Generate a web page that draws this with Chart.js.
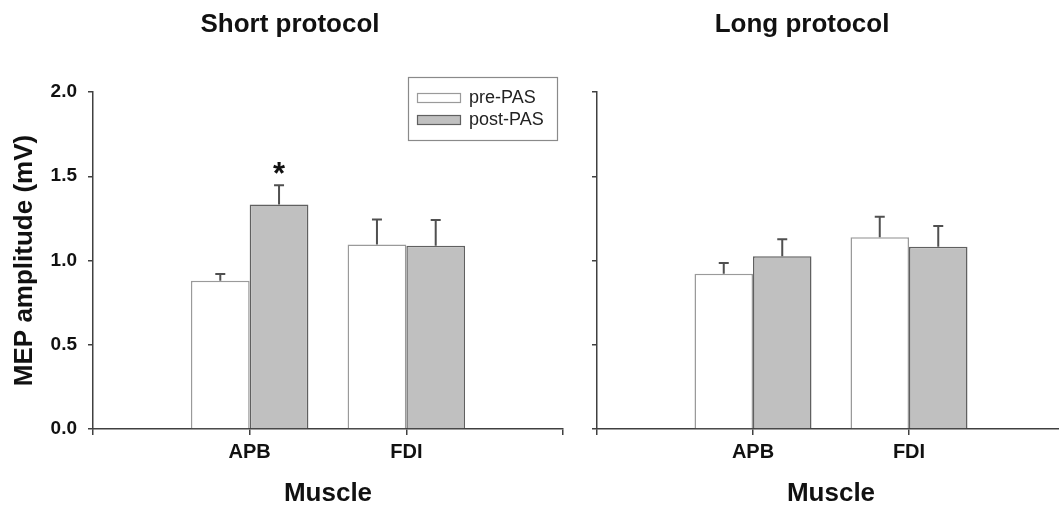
<!DOCTYPE html>
<html>
<head>
<meta charset="utf-8">
<script src="https://cdn.jsdelivr.net/npm/chart.js@4.4.1/dist/chart.umd.min.js"></script>
<style>
  html, body { margin: 0; padding: 0; background: #fff; overflow: hidden; width: 1059px; height: 509px; }
  canvas { position: absolute; top: 0; }
  #left { left: 0; }
  #right { left: 534px; }
</style>
</head>
<body>
<canvas id="left" width="582" height="509"></canvas>
<canvas id="right" width="536" height="509"></canvas>
<script>
// ---- data ----
const categories = ['', 'APB', 'FDI', ''];
const seriesLabels = ['pre-PAS', 'post-PAS'];
const yTicks = [0, 0.5, 1.0, 1.5, 2.0];

const shortPre     = [null, 0.88, 1.095, null];
const shortPreErr  = [null, 0.04, 0.148, null];
const shortPost    = [null, 1.333, 1.087, null];
const shortPostErr = [null, 0.113, 0.153, null];

const longPre      = [null, 0.922, 1.138, null];
const longPreErr   = [null, 0.063, 0.122, null];
const longPost     = [null, 1.025, 1.082, null];
const longPostErr  = [null, 0.101, 0.123, null];

const shortSignif  = [false, true, false, false]; // asterisk above post-PAS

// ---- styling ----
const FONT = "'Liberation Sans', Arial, Helvetica, sans-serif";
const AXIS = '#404040';

const errorBarPlugin = {
  id: 'errorBars',
  afterDatasetsDraw(chart) {
    const ctx = chart.ctx;
    const yScale = chart.scales.y;
    chart.data.datasets.forEach((ds, di) => {
      const meta = chart.getDatasetMeta(di);
      meta.data.forEach((bar, i) => {
        const v = ds.data[i], e = ds.errors ? ds.errors[i] : null;
        if (v == null || e == null) return;
        const yTop = yScale.getPixelForValue(v + e);
        const yBase = yScale.getPixelForValue(v);
        ctx.save();
        ctx.strokeStyle = '#505050';
        ctx.lineWidth = 2;
        ctx.beginPath();
        ctx.moveTo(bar.x, yBase);
        ctx.lineTo(bar.x, yTop);
        ctx.moveTo(bar.x - 5, yTop);
        ctx.lineTo(bar.x + 5, yTop);
        ctx.stroke();
        if (ds.signif && ds.signif[i]) {
          ctx.fillStyle = '#111';
          ctx.font = 'bold 31px ' + FONT;
          ctx.textAlign = 'center';
          ctx.textBaseline = 'alphabetic';
          ctx.fillText('*', bar.x, yTop - 1);
        }
        ctx.restore();
      });
    });
  }
};

const boxLegendPlugin = {
  id: 'boxLegend',
  afterDraw(chart, args, opts) {
    if (!opts || !opts.show) return;
    const ctx = chart.ctx;
    const ca = chart.chartArea;
    const x0 = ca.left + 315, y0 = ca.top - 15, w = 149, h = 63;
    ctx.save();
    ctx.fillStyle = '#fff';
    ctx.fillRect(x0, y0, w, h);
    ctx.strokeStyle = '#8a8a8a';
    ctx.lineWidth = 1.2;
    ctx.strokeRect(x0 + 0.5, y0 + 0.5, w, h);
    ctx.font = '18px ' + FONT;
    ctx.textBaseline = 'middle';
    ctx.textAlign = 'left';
    chart.data.datasets.forEach((ds, i) => {
      const sy = y0 + 16 + i * 22;
      ctx.fillStyle = ds.backgroundColor;
      ctx.fillRect(x0 + 9, sy, 43, 9);
      ctx.strokeStyle = ds.borderColor;
      ctx.lineWidth = 1.2;
      ctx.strokeRect(x0 + 9.5, sy + 0.5, 43, 9);
      ctx.fillStyle = '#222';
      ctx.fillText(ds.label, x0 + 61, sy + 5);
    });
    ctx.restore();
  }
};

const panelTitlePlugin = {
  id: 'panelTitle',
  afterDraw(chart, args, opts) {
    if (!opts || !opts.text) return;
    const ctx = chart.ctx;
    ctx.save();
    ctx.fillStyle = '#111';
    ctx.font = 'bold 26px ' + FONT;
    ctx.textAlign = 'center';
    ctx.textBaseline = 'middle';
    ctx.fillText(opts.text, opts.cx, 24.6);
    ctx.restore();
  }
};

function makeChart(canvasId, title, pre, preErr, post, postErr, signif, opts) {
  return new Chart(document.getElementById(canvasId), {
    type: 'bar',
    data: {
      labels: categories,
      datasets: [
        { label: seriesLabels[0], data: pre, errors: preErr,
          backgroundColor: '#ffffff', borderColor: '#9a9a9a', borderWidth: 1.5,
          barPercentage: 1.0, categoryPercentage: 0.75 },
        { label: seriesLabels[1], data: post, errors: postErr, signif: signif,
          backgroundColor: '#c0c0c0', borderColor: '#606060', borderWidth: 1.5,
          barPercentage: 1.0, categoryPercentage: 0.75 }
      ]
    },
    options: {
      responsive: false,
      animation: false,
      devicePixelRatio: 1,
      layout: { padding: { left: 0, right: opts.padRight, top: 92, bottom: 0 } },
      plugins: {
        legend: { display: false },
        tooltip: { enabled: false },
        title: { display: false },
        panelTitle: { text: title, cx: opts.titleX },
        boxLegend: { show: opts.legend }
      },
      scales: {
        x: {
          type: 'category',
          offset: false,
          grid: { display: true, offset: false, drawOnChartArea: false, drawTicks: true, tickLength: 6, color: AXIS, lineWidth: 1.5 },
          border: { display: true, color: AXIS, width: 1.5 },
          ticks: { autoSkip: false, maxRotation: 0, padding: 5, color: '#111',
                   font: { family: FONT, size: 20, weight: 'bold' } },
          title: { display: true, text: 'Muscle', color: '#111',
                   font: { family: FONT, size: 26, weight: 'bold' }, padding: { top: 0, bottom: 0 } },
          afterFit(scale) { scale.height = 80; }
        },
        y: {
          type: 'linear',
          min: 0, max: 2,
          afterBuildTicks(scale) { scale.ticks = yTicks.map(v => ({ value: v })); },
          grid: { display: true, drawOnChartArea: false, drawTicks: true, tickLength: 5, color: AXIS, lineWidth: 1.5 },
          border: { display: true, color: AXIS, width: 1.5 },
          ticks: { padding: 11, color: '#111',
                   font: { family: FONT, size: 19, weight: 'bold' },
                   callback: (v) => opts.yLabels ? Number(v).toFixed(1) : '' },
          title: { display: opts.yLabels, text: 'MEP amplitude (mV)', color: '#111',
                   font: { family: FONT, size: 26, weight: 'bold' }, padding: { top: 9, bottom: 0 } },
          afterFit(scale) { scale.width = opts.yWidth; }
        }
      }
    },
    plugins: [errorBarPlugin, boxLegendPlugin, panelTitlePlugin]
  });
}

makeChart('left', 'Short protocol', shortPre, shortPreErr, shortPost, shortPostErr, shortSignif,
  { padRight: 19, yWidth: 93, legend: true, yLabels: true, titleX: 290 });
makeChart('right', 'Long protocol', longPre, longPreErr, longPost, longPostErr, null,
  { padRight: 3, yWidth: 63, legend: false, yLabels: false, titleX: 802 - 534 });
</script>
</body>
</html>
